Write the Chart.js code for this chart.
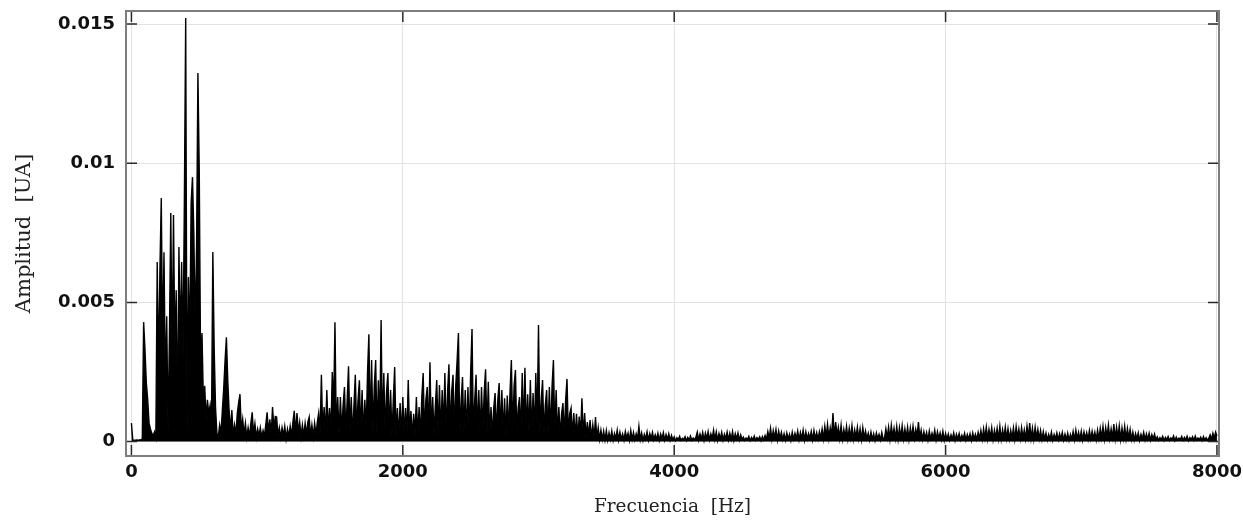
<!DOCTYPE html>
<html>
<head>
<meta charset="utf-8">
<script src="https://cdn.jsdelivr.net/npm/chart.js@4/dist/chart.umd.min.js"></script>
<style>
    body { margin: 0; background: #fff; }
    #wrap { width: 1243px; height: 527px; }
</style>
</head>
<body>
<div id="wrap"><canvas id="spectrum" width="1243" height="527"></canvas></div>
<script>
// amplitudes in units of 1e-5 UA
const ampUnit = 1e-5;

// 0 - 3500 Hz, one bin every 10 Hz
const lowBandStartHz = 0;
const lowBandStepHz = 10;
const lowBandAmp = [
    66, 6, 5, 5, 6, 5, 6, 7, 9, 429,
    329, 210, 150, 66, 45, 30, 20, 35, 15, 645,
    250, 620, 875, 330, 680, 200, 450, 40, 380, 821,
    300, 814, 330, 544, 60, 699, 350, 645, 300, 857,
    1522, 40, 591, 350, 857, 950, 749, 400, 700, 1324,
    965, 250, 390, 150, 200, 80, 150, 100, 130, 60,
    681, 330, 120, 30, 16, 60, 30, 110, 190, 290,
    375, 220, 110, 40, 113, 20, 60, 25, 100, 140,
    170, 40, 80, 25, 66, 15, 50, 18, 65, 105,
    30, 65, 15, 45, 20, 50, 15, 40, 20, 60,
    105, 35, 80, 25, 124, 45, 90, 88, 20, 50,
    15, 50, 20, 55, 10, 45, 18, 55, 20, 70,
    110, 30, 102, 35, 70, 18, 60, 20, 66, 25,
    70, 88, 20, 60, 18, 66, 25, 70, 102, 25,
    240, 30, 124, 25, 185, 35, 120, 30, 250, 120,
    429, 30, 160, 25, 160, 35, 130, 196, 30, 150,
    270, 35, 160, 20, 130, 240, 35, 150, 220, 30,
    185, 20, 150, 40, 250, 385, 40, 293, 35, 200,
    293, 30, 220, 60, 437, 30, 246, 25, 180, 246,
    30, 185, 20, 150, 268, 20, 120, 15, 138, 20,
    160, 25, 120, 20, 221, 30, 110, 15, 100, 25,
    160, 20, 124, 18, 160, 246, 30, 150, 196, 30,
    285, 35, 160, 25, 130, 221, 30, 203, 25, 185,
    45, 246, 25, 180, 278, 35, 180, 240, 30, 200,
    290, 390, 20, 150, 232, 30, 185, 25, 196, 20,
    250, 404, 30, 150, 240, 30, 185, 25, 196, 45,
    180, 260, 30, 215, 25, 124, 20, 120, 174, 25,
    150, 210, 30, 185, 25, 155, 20, 165, 30, 180,
    293, 35, 200, 257, 25, 120, 160, 25, 246, 40,
    265, 30, 170, 35, 221, 25, 174, 30, 246, 60,
    419, 30, 150, 221, 25, 130, 185, 30, 196, 25,
    200, 293, 30, 185, 20, 124, 18, 100, 138, 20,
    150, 225, 25, 100, 120, 18, 102, 15, 100, 15,
    90, 25, 155, 18, 102, 15, 70, 18, 77, 12,
    60, 12, 88, 10, 50, 8, 41, 8, 38, 6, 40
];

// 3510 - 8000 Hz, one bin every 10 Hz
const highBandStartHz = 3510;
const highBandStepHz = 10;
const highBandAmp = [
    5, 32, 8, 38, 4, 29, 10, 41, 6, 34,
    9, 27, 5, 36, 12, 30, 4, 40, 8, 33,
    6, 28, 10, 55,
    7, 31, 4, 26, 9, 35, 5, 29, 11, 33,
    6, 24, 8, 30, 4, 27, 10, 32, 5, 25,
    8, 28, 4, 22,
    6, 17, 3, 14, 7, 19, 4, 12, 8, 18,
    3, 15, 6, 20, 4, 13, 7, 16,
    34,
    5, 27, 9, 33, 4, 30, 10, 36, 6, 28,
    11, 41, 7, 35, 4, 29, 9, 33, 5, 26,
    10, 34, 6, 30, 8, 36, 4, 28, 9, 31,
    5, 24, 8,
    16, 4, 13, 7, 19, 3, 15, 6, 20, 4,
    14, 8, 17, 3, 18, 6, 22,
    9, 36, 12, 48, 8, 40, 14, 44, 6, 38, 11, 33, 7,
    28, 5, 31, 9, 26, 4, 34, 8, 30, 11,
    38, 6, 33, 10, 41, 5, 35, 9, 29, 12,
    37, 6, 40, 10, 32, 8, 36,
    14, 45, 10, 55, 18, 62, 12, 50, 20, 102, 15, 70, 24,
    52, 12, 59, 9, 44, 16, 55, 10, 48, 14,
    57, 8, 42, 15, 52, 11, 46, 7, 50, 13, 38,
    9, 30, 5, 34, 8, 28, 4, 31, 10, 26, 6, 33, 9, 12,
    46, 14, 52, 9, 59, 17, 48, 11, 55, 8, 50, 15, 57,
    10, 46, 13, 52, 8, 49, 16, 55, 12, 44, 20, 70,
    14, 41, 8, 36, 11, 33, 5, 38, 9, 30,
    12, 41, 6, 35, 10, 31, 7, 37, 4, 29, 8,
    27, 5, 24, 9, 31, 4, 26, 8, 29, 6,
    23, 10, 30, 5, 25, 8, 28, 4, 31, 9, 26, 7, 33, 11, 40, 8,
    46, 12, 52, 9, 44, 15, 50, 7, 41, 13,
    48, 10, 55, 8, 43, 14, 52, 11, 46, 9,
    40, 12, 49, 8, 54, 15, 45, 10, 50, 13,
    42, 9, 55, 16, 66, 11, 48, 8, 52, 14,
    44, 10, 40, 7, 36, 9,
    30, 5, 26, 8, 34, 4, 25, 9, 31, 6,
    28, 10, 33, 5, 27, 7, 30, 4, 26, 9,
    36, 6, 41, 10, 33, 8, 38, 5, 35, 11,
    32, 7, 40, 9, 37, 12, 34, 6, 41, 10,
    48, 13, 55, 9, 50, 16, 59, 11, 46, 14,
    63, 10, 52, 15, 57, 8, 49, 12, 55, 9, 47, 13, 44,
    8, 34, 5, 29, 9, 31, 4, 26, 10, 33,
    6, 28, 8, 30, 5, 25, 9, 27, 6,
    17, 4, 14, 7, 19, 3, 15, 6, 18, 4,
    13, 8, 20, 3, 16, 5, 12, 7, 18, 4,
    15, 6, 19, 3, 14, 8, 17, 4, 20, 5,
    13, 7, 16, 3, 18, 6, 14, 4, 12,
    24, 8, 30, 12, 34, 20
];

const xTicks = [0, 2000, 4000, 6000, 8000];
const yTicks = [0, 0.005, 0.01, 0.015];
const yTickLabels = ['0', '0.005', '0.01', '0.015'];

function bandPoints(startHz, stepHz, amps) {
    return amps.map((a, i) => ({ x: startHz + i * stepHz, y: a * ampUnit }));
}

const points = bandPoints(lowBandStartHz, lowBandStepHz, lowBandAmp)
    .concat(bandPoints(highBandStartHz, highBandStepHz, highBandAmp));

// box frame with inward tick marks
const frameTicks = {
    id: 'frameTicks',
    afterDatasetsDraw(chart) {
        const { ctx, chartArea: a, scales: { x, y } } = chart;
        const len = 11;
        ctx.save();
        ctx.strokeStyle = '#2a2a2a';
        ctx.lineWidth = 1.5;
        ctx.beginPath();
        xTicks.forEach(v => {
            const px = x.getPixelForValue(v);
            ctx.moveTo(px, a.bottom); ctx.lineTo(px, a.bottom - len);
            ctx.moveTo(px, a.top); ctx.lineTo(px, a.top + len);
        });
        yTicks.forEach(v => {
            const py = y.getPixelForValue(v);
            ctx.moveTo(a.left, py); ctx.lineTo(a.left + len, py);
            ctx.moveTo(a.right, py); ctx.lineTo(a.right - len, py);
        });
        ctx.stroke();
        ctx.strokeStyle = '#7d7d7d';
        ctx.lineWidth = 2;
        ctx.strokeRect(a.left, a.top, a.right - a.left, a.bottom - a.top);
        ctx.restore();
    }
};

const tickFont = { family: 'DejaVu Sans', size: 18, weight: 'bold' };

new Chart(document.getElementById('spectrum').getContext('2d'), {
    type: 'line',
    data: {
        datasets: [{
            label: 'Amplitud',
            data: points,
            borderColor: '#000',
            backgroundColor: '#000',
            borderWidth: 1.4,
            pointRadius: 0,
            tension: 0,
            fill: 'origin'
        }]
    },
    options: {
        responsive: false,
        animation: false,
        parsing: false,
        layout: { padding: { top: 11, right: 24, left: 0, bottom: 0 } },
        plugins: {
            legend: { display: false },
            tooltip: { enabled: false }
        },
        scales: {
            x: {
                type: 'linear',
                min: -40,
                max: 8015,
                afterFit: s => { s.height = 71; s.paddingLeft = 0; s.paddingRight = 0; },
                afterBuildTicks: s => { s.ticks = xTicks.map(v => ({ value: v })); },
                grid: { color: '#e2e2e2', lineWidth: 1, drawTicks: false },
                border: { display: false },
                ticks: {
                    color: '#111',
                    font: tickFont,
                    padding: 6,
                    maxRotation: 0,
                    callback: v => String(v)
                },
                title: {
                    display: true,
                    text: 'Frecuencia  [Hz]',
                    color: '#222',
                    font: { family: 'DejaVu Serif', size: 18.5 },
                    padding: { top: 0, bottom: 9 }
                }
            },
            y: {
                type: 'linear',
                min: -0.00052,
                max: 0.01547,
                afterFit: s => { s.width = 126; s.paddingTop = 0; s.paddingBottom = 0; },
                afterBuildTicks: s => { s.ticks = yTicks.map(v => ({ value: v })); },
                grid: { color: '#e2e2e2', lineWidth: 1, drawTicks: false },
                border: { display: false },
                ticks: {
                    color: '#111',
                    font: tickFont,
                    padding: 11,
                    callback: v => yTickLabels[yTicks.indexOf(v)] ?? ''
                },
                title: {
                    display: true,
                    text: 'Amplitud  [UA]',
                    color: '#222',
                    font: { family: 'DejaVu Serif', size: 21 },
                    padding: { top: 12, bottom: 0 }
                }
            }
        }
    },
    plugins: [frameTicks]
});
</script>
</body>
</html>
